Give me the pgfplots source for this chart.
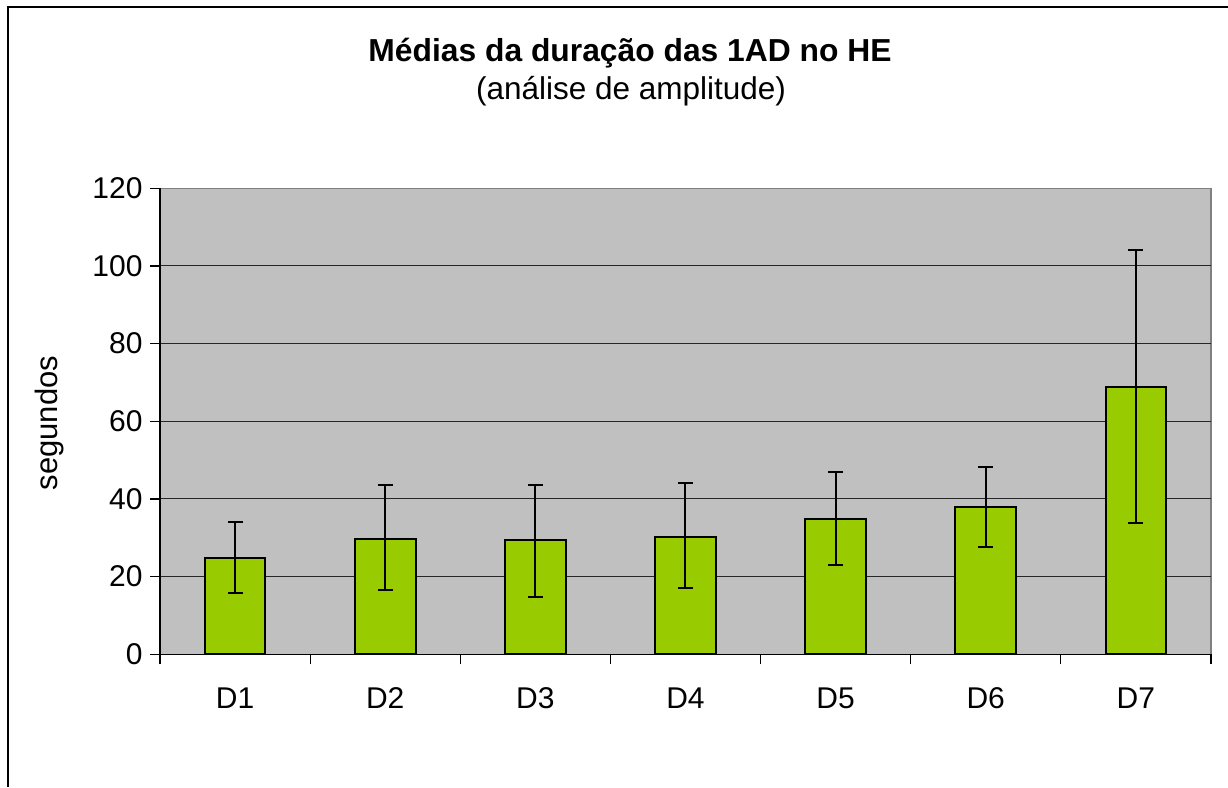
\documentclass[border=0pt]{standalone}
\usepackage{pgfplots}
\pgfplotsset{compat=1.18}
\usepackage{fontspec}
\setmainfont{Liberation Sans}
\definecolor{barg}{HTML}{99CC00}
\definecolor{plotbg}{HTML}{C0C0C0}
\pgfplotstableread{
x y ep em
1 24.8 9.2 8.9
2 29.8 13.9 13.3
3 29.4 14.3 14.6
4 30.3 13.8 13.3
5 34.9 12.0 11.8
6 38.0 10.3 10.3
7 68.9 35.1 35.0
}\datatab
\begin{document}
\begin{tikzpicture}
\path[use as bounding box] (0pt,0pt) rectangle (1228pt,787pt);
\draw[line width=2pt] (8pt,0pt) -- (8pt,780pt) -- (1228pt,780pt);
\node[font=\fontsize{31.8}{38}\selectfont\bfseries, anchor=base] at (630pt,725pt) {Médias da duração das 1AD no HE};
\node[font=\fontsize{31.5}{38}\selectfont, anchor=base] at (631pt,687pt) {(análise de amplitude)};
\node[font=\fontsize{31}{36}\selectfont, rotate=90] at (49pt,364pt) {segundos};
\begin{axis}[
  at={(160pt,132.7pt)}, anchor=south west,
  scale only axis, width=1051pt, height=466pt,
  xmin=0.5, xmax=7.5, ymin=0, ymax=120,
  xtick={1,...,7}, xticklabels={D1,D2,D3,D4,D5,D6,D7},
  major x tick style={draw=none},
  minor xtick={0.5,1.5,...,7.5},
  ytick={0,20,...,100},
  extra y ticks={120}, extra tick style={grid=none},
  tick align=outside,
  major tick length=10pt, minor tick length=10pt,
  tick style={line width=1.2pt, black},
  axis x line*=bottom, axis y line*=left,
  axis line style={line width=1.5pt, -},
  axis background/.style={fill=plotbg, draw=gray, line width=1.5pt},
  ymajorgrids, grid style={line width=1pt, black!85},
  tick label style={font=\fontsize{30}{34}\selectfont},
  /pgf/number format/assume math mode=true,
  xticklabel style={yshift=-20pt},
  yticklabel style={xshift=-4pt},
]
\addplot[ybar, bar width=60.7pt, fill=barg, draw=black, line width=2pt,
  error bars/.cd, y dir=both, y explicit,
  error bar style={line width=2pt, black},
  error mark options={rotate=90, mark size=7.5pt, line width=2pt, black}]
  table[x=x, y=y, y error plus=ep, y error minus=em] {\datatab};
\end{axis}
\end{tikzpicture}
\end{document}
